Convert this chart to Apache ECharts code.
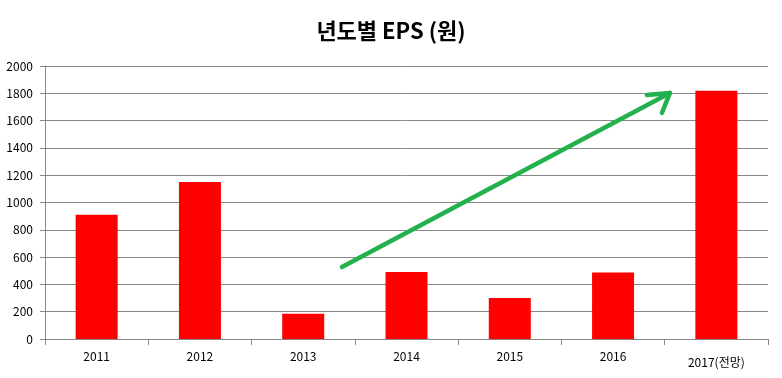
<!DOCTYPE html>
<html><head><meta charset="utf-8">
<script src="https://cdn.jsdelivr.net/npm/echarts@6/dist/echarts.min.js"></script>
<style>html,body{margin:0;padding:0;background:#fff}#c{width:782px;height:378px}</style>
</head><body><div id="c"></div>
<script>
const categories = ['2011','2012','2013','2014','2015','2016','2017(전망)'];
const epsValues = [910, 1150, 185, 490, 300, 487, 1818];
const yTicks = [0, 200, 400, 600, 800, 1000, 1200, 1400, 1600, 1800, 2000];
// trend arrow annotation in data space (x: category units from left edge, y: EPS)
const arrowShaft = [[2.875, 527], [6.05, 1802]];
const arrowHead1 = [[5.828, 1787], [6.05, 1802]];
const arrowHead2 = [[5.973, 1656], [6.05, 1802]];

const chart = echarts.init(document.getElementById('c'));
const font = '"Noto Sans CJK KR", "Noto Sans", sans-serif';
const green = '#22b14c';
const arrowLine = (d) => ({
  type: 'line', xAxisIndex: 1, data: d, symbol: 'none', silent: true,
  lineStyle: {color: green, width: 4.5, cap: 'round'}, z: 5
});
chart.setOption({
  animation: false,
  title: {
    text: '년도별 EPS (원)', left: 'center', top: 15,
    textStyle: {fontFamily: font, fontSize: 22, fontWeight: 'bold', color: '#000'}
  },
  grid: {left: 45, right: 14, top: 66, bottom: 39},
  xAxis: [{
    type: 'category', data: categories,
    axisLine: {lineStyle: {color: '#888', width: 1}},
    axisTick: {show: true, length: 6, interval: 0, lineStyle: {color: '#888'}},
    axisLabel: {
      fontFamily: font, fontSize: 12, color: '#000', margin: 11, interval: 0,
      formatter: (v) => v.indexOf('(') >= 0 ? '{low|' + v + '}' : v,
      rich: {low: {fontFamily: font, fontSize: 12, color: '#000', padding: [6, 0, 0, 0]}}
    }
  }, {
    type: 'value', min: 0, max: 7, show: false
  }],
  yAxis: {
    type: 'value', min: yTicks[0], max: yTicks[yTicks.length - 1], interval: yTicks[1] - yTicks[0],
    axisLine: {show: true, lineStyle: {color: '#888'}},
    axisTick: {show: true, length: 5, lineStyle: {color: '#888'}},
    splitLine: {lineStyle: {color: '#888', width: 1}},
    axisLabel: {fontFamily: font, fontSize: 12, color: '#000', margin: 12, formatter: (v) => String(v)}
  },
  series: [{
    type: 'bar', data: epsValues, barWidth: 42,
    itemStyle: {color: '#ff0000'}
  }, arrowLine(arrowShaft), arrowLine(arrowHead1), arrowLine(arrowHead2)]
});
</script></body></html>
